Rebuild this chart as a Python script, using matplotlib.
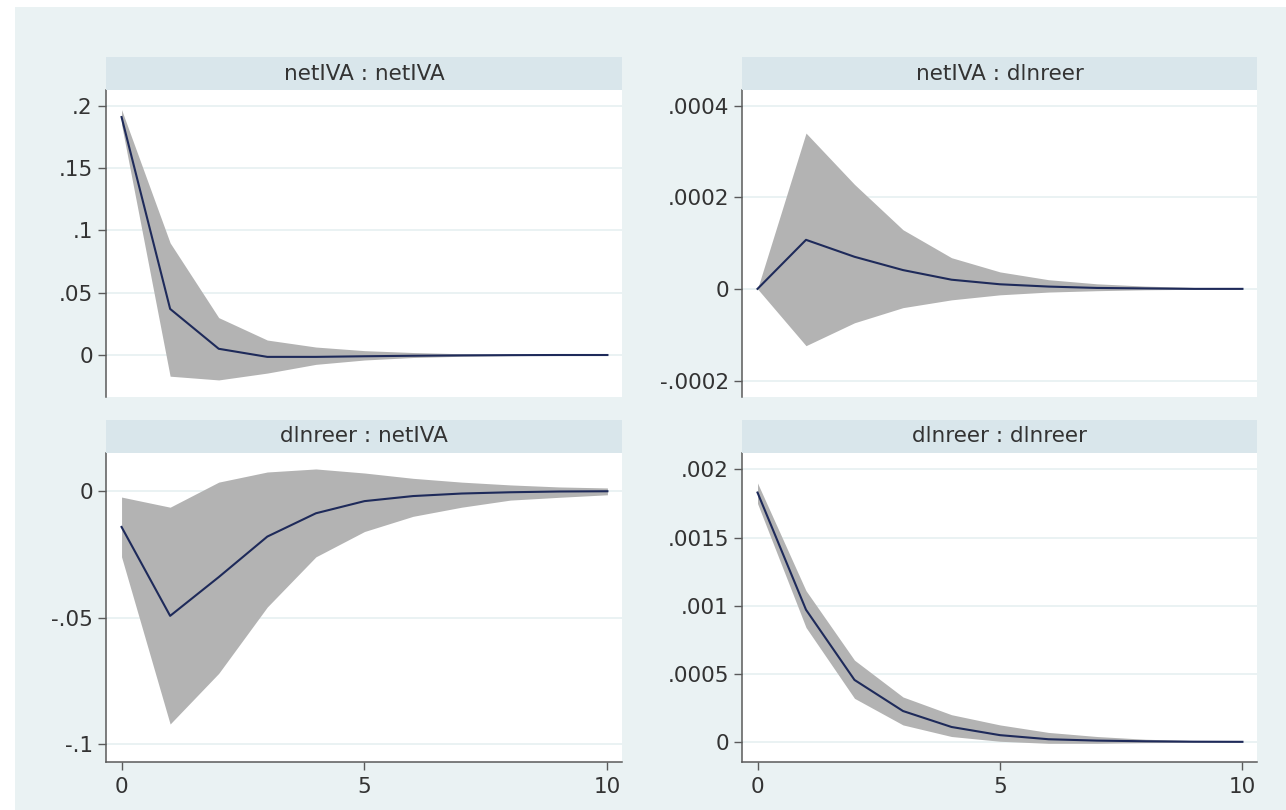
import matplotlib
matplotlib.use("Agg")
import matplotlib.pyplot as plt

# ---------------- data ----------------
steps = [0, 1, 2, 3, 4, 5, 6, 7, 8, 9, 10]

titles = ["netIVA : netIVA", "netIVA : dlnreer", "dlnreer : netIVA", "dlnreer : dlnreer"]

irf_nn = [0.191, 0.037, 0.005, -0.0015, -0.0015, -0.001, -0.0006, -0.0003, -0.0001, 0.0, 0.0]
lo_nn = [0.185, -0.017, -0.020, -0.0145, -0.0075, -0.004, -0.002, -0.001, -0.0005, -0.0002, -0.0001]
hi_nn = [0.197, 0.090, 0.030, 0.012, 0.0064, 0.0035, 0.002, 0.001, 0.0005, 0.0002, 0.0001]

irf_nd = [0.0, 0.000107, 0.00007, 0.000041, 0.00002, 0.00001, 0.000005, 0.000002, 0.000001, 0.0, 0.0]
lo_nd = [0.0, -0.000124, -0.000074, -0.000041, -0.000024, -0.000013, -0.000007, -0.000004, -0.000002, -0.000001, -0.0000005]
hi_nd = [0.0, 0.00034, 0.000228, 0.000129, 0.000068, 0.000037, 0.00002, 0.000011, 0.000006, 0.000003, 0.000001]

irf_dn = [-0.0142, -0.0493, -0.034, -0.018, -0.0088, -0.004, -0.002, -0.001, -0.0005, -0.0002, -0.0001]
lo_dn = [-0.026, -0.092, -0.072, -0.0458, -0.026, -0.016, -0.010, -0.0064, -0.0036, -0.0025, -0.0015]
hi_dn = [-0.0024, -0.0064, 0.0035, 0.0075, 0.0087, 0.0071, 0.005, 0.0035, 0.0024, 0.0016, 0.0012]

irf_dd = [0.00183, 0.00097, 0.000455, 0.000227, 0.00011, 0.00005, 0.00002, 0.00001, 0.000005, 0.000002, 0.000001]
lo_dd = [0.00175, 0.00084, 0.00032, 0.000125, 0.00004, 0.000005, -0.00001, -0.00001, -0.000005, -0.000003, -0.000001]
hi_dd = [0.0019, 0.00111, 0.0006, 0.00033, 0.0002, 0.000125, 0.00007, 0.00004, 0.00002, 0.00001, 0.000005]

yticks_nn = [0, 0.05, 0.1, 0.15, 0.2]
ylabels_nn = ["0", ".05", ".1", ".15", ".2"]
yticks_nd = [-0.0002, 0, 0.0002, 0.0004]
ylabels_nd = ["-.0002", "0", ".0002", ".0004"]
yticks_dn = [-0.1, -0.05, 0]
ylabels_dn = ["-.1", "-.05", "0"]
yticks_dd = [0, 0.0005, 0.001, 0.0015, 0.002]
ylabels_dd = ["0", ".0005", ".001", ".0015", ".002"]

xticks = [0, 5, 10]
xlabels = ["0", "5", "10"]

# ---------------- style ----------------
W, H = 1286, 810
BG = "#EAF2F3"
STRIP = "#D9E6EB"
BAND = "#B3B3B3"
LINE = "#1E2A5A"
SPINE = "#5A5A5A"
TXT = "#333333"
FS = 15.5

plt.rcParams["font.family"] = ["DejaVu Sans"]

fig = plt.figure(figsize=(W / 100, H / 100), dpi=100)
fig.patch.set_facecolor("white")


def px_box(x0, x1, y0, y1):
    return [x0 / W, 1 - y1 / H, (x1 - x0) / W, (y1 - y0) / H]


bg = fig.add_axes(px_box(15, W, 7, H), zorder=-10)
bg.set_facecolor(BG)
bg.set_xticks([])
bg.set_yticks([])
for s in bg.spines.values():
    s.set_visible(False)

panels = [
    dict(t=titles[0], irf=irf_nn, lo=lo_nn, hi=hi_nn, yt=yticks_nn, yl=ylabels_nn,
         ylim=(-0.0337, 0.2127), box=(106, 622, 90, 397), strip=(57, 90), bottom=False),
    dict(t=titles[1], irf=irf_nd, lo=lo_nd, hi=hi_nd, yt=yticks_nd, yl=ylabels_nd,
         ylim=(-0.000236, 0.000434), box=(742, 1257, 90, 397), strip=(57, 90), bottom=False),
    dict(t=titles[2], irf=irf_dn, lo=lo_dn, hi=hi_dn, yt=yticks_dn, yl=ylabels_dn,
         ylim=(-0.107, 0.015), box=(106, 622, 453, 762), strip=(420, 453), bottom=True),
    dict(t=titles[3], irf=irf_dd, lo=lo_dd, hi=hi_dd, yt=yticks_dd, yl=ylabels_dd,
         ylim=(-0.000147, 0.00212), box=(742, 1257, 453, 762), strip=(420, 453), bottom=True),
]

for p in panels:
    x0, x1, y0, y1 = p["box"]
    ax = fig.add_axes(px_box(x0, x1, y0, y1))
    ax.set_facecolor("white")
    ax.fill_between(steps, p["lo"], p["hi"], color=BAND, linewidth=0, zorder=2)
    ax.plot(steps, p["irf"], color=LINE, linewidth=1.5, zorder=3)
    ax.set_xlim(-0.32, 10.3)
    ax.set_ylim(*p["ylim"])
    ax.set_yticks(p["yt"])
    ax.set_yticklabels(p["yl"])
    ax.yaxis.grid(True, color=BG, linewidth=1.4, zorder=1)
    ax.set_axisbelow(True)
    for s in ["top", "right"]:
        ax.spines[s].set_visible(False)
    ax.spines["left"].set_color(SPINE)
    ax.spines["left"].set_linewidth(1.1)
    ax.tick_params(axis="y", direction="out", length=5.5, width=1.0, color=SPINE,
                   pad=4, labelsize=FS, labelcolor=TXT)
    if p["bottom"]:
        ax.spines["bottom"].set_color(SPINE)
        ax.spines["bottom"].set_linewidth(1.1)
        ax.set_xticks(xticks)
        ax.set_xticklabels(xlabels)
        ax.tick_params(axis="x", direction="out", length=5.5, width=1.0, color=SPINE,
                       pad=5, labelsize=FS, labelcolor=TXT)
    else:
        ax.spines["bottom"].set_visible(False)
        ax.set_xticks([])

    s0, s1 = p["strip"]
    sax = fig.add_axes(px_box(x0, x1, s0, s1))
    sax.set_facecolor(STRIP)
    sax.set_xticks([])
    sax.set_yticks([])
    for s in sax.spines.values():
        s.set_visible(False)
    sax.text(0.5, 0.5, p["t"], ha="center", va="center", fontsize=FS,
             color=TXT, transform=sax.transAxes)

fig.savefig("out.png", dpi=100, facecolor=fig.get_facecolor())
